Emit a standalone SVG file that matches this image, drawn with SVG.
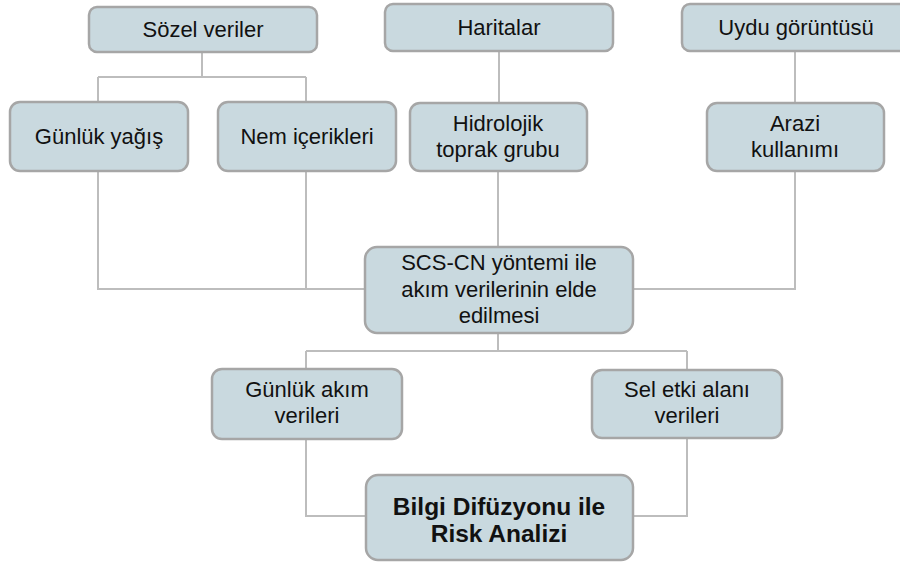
<svg xmlns="http://www.w3.org/2000/svg" width="900" height="564" viewBox="0 0 900 564">
<style>
.box{fill:#C9D9DF;stroke:#A6A6A6;stroke-width:2.5}
.t{font-family:"Liberation Sans",Arial,sans-serif;font-size:22px;fill:#111;text-anchor:middle}
.b{font-weight:bold;font-size:24.5px}
.c{fill:none;stroke:#BDBDBD;stroke-width:2}
</style>
<rect width="900" height="564" fill="#fff"/>
<g id="connectors">
<path class="c" d="M202 52V77M98 77H306M98 77V102M306 77V102"/>
<path class="c" d="M499 51V103"/>
<path class="c" d="M795 51V103"/>
<path class="c" d="M98 171V289H365"/>
<path class="c" d="M306 171V289"/>
<path class="c" d="M498 171V247"/>
<path class="c" d="M795 171V289H633"/>
<path class="c" d="M498 333V351M306 351H687M306 351V369M687 351V370"/>
<path class="c" d="M306 439V516H366"/>
<path class="c" d="M687 438V516H633"/>
</g>
<g id="sozel"><rect class="box" x="89" y="7" width="228" height="45" rx="8"/><text class="t" x="203" y="37">Sözel veriler</text></g>
<g id="haritalar"><rect class="box" x="385" y="4" width="228" height="47" rx="8"/><text class="t" x="499" y="35">Haritalar</text></g>
<g id="uydu"><rect class="box" x="682" y="4" width="228" height="47" rx="8"/><text class="t" x="796" y="35">Uydu görüntüsü</text></g>
<g id="gunluk-yagis"><rect class="box" x="10" y="102" width="178" height="69" rx="10"/><text class="t" x="99" y="144">Günlük yağış</text></g>
<g id="nem"><rect class="box" x="218" y="102" width="178" height="69" rx="10"/><text class="t" x="307" y="144">Nem içerikleri</text></g>
<g id="hidrolojik"><rect class="box" x="410" y="103" width="177" height="68" rx="10"/><text class="t" x="498" y="131">Hidrolojik</text><text class="t" x="498" y="157">toprak grubu</text></g>
<g id="arazi"><rect class="box" x="707" y="103" width="177" height="68" rx="10"/><text class="t" x="795" y="131">Arazi</text><text class="t" x="795" y="157">kullanımı</text></g>
<g id="scs"><rect class="box" x="365" y="247" width="268" height="86" rx="12"/><text class="t" x="499" y="270">SCS-CN yöntemi ile</text><text class="t" x="499" y="297">akım verilerinin elde</text><text class="t" x="499" y="323">edilmesi</text></g>
<g id="gunluk-akim"><rect class="box" x="212" y="369" width="190" height="70" rx="10"/><text class="t" x="307" y="397">Günlük akım</text><text class="t" x="307" y="423">verileri</text></g>
<g id="sel"><rect class="box" x="592" y="370" width="190" height="68" rx="10"/><text class="t" x="687" y="397">Sel etki alanı</text><text class="t" x="687" y="423">verileri</text></g>
<g id="bilgi"><rect class="box" x="366" y="475" width="267" height="85" rx="12"/><text class="t b" x="499" y="515">Bilgi Difüzyonu ile</text><text class="t b" x="499" y="542">Risk Analizi</text></g>
</svg>
